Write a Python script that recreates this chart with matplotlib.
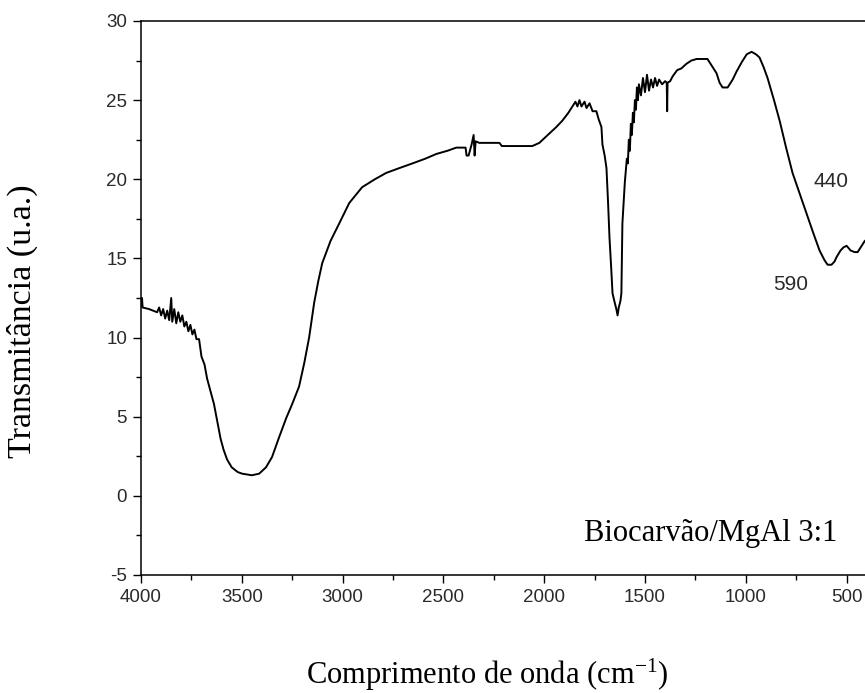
import numpy as np
import matplotlib
matplotlib.use("Agg")
import matplotlib.pyplot as plt
from matplotlib.ticker import MultipleLocator

# FTIR spectrum
wavenumber = [3998, 3995, 3992, 3960, 3940, 3920, 3910, 3900, 3890, 3880, 3870, 3860,
              3850, 3845, 3835, 3825, 3815, 3805, 3795, 3785, 3775, 3765, 3755, 3745,
              3735, 3725, 3712, 3700, 3685, 3672, 3655, 3638, 3620, 3605, 3590, 3573,
              3550, 3520, 3498, 3450, 3414, 3380, 3350, 3315, 3280, 3250, 3216, 3190,
              3166, 3141, 3120, 3101, 3060, 3017, 2967, 2903, 2840, 2784, 2720, 2654,
              2590, 2535, 2480, 2436, 2390, 2385, 2375, 2360, 2350, 2345, 2340, 2322,
              2222, 2210, 2059, 2024, 1974, 1940, 1910, 1880, 1860, 1845, 1835, 1825,
              1815, 1800, 1790, 1775, 1760, 1741, 1730, 1716, 1711, 1700, 1691, 1683,
              1676, 1668, 1661, 1650, 1642, 1636, 1630, 1622, 1617, 1612, 1600, 1590,
              1585, 1580, 1575, 1570, 1565, 1560, 1555, 1550, 1545, 1540, 1535, 1530,
              1520, 1510, 1500, 1490, 1480, 1470, 1460, 1450, 1440, 1430, 1415, 1400,
              1392, 1390, 1388, 1375, 1363, 1340, 1320, 1294, 1270, 1244, 1190, 1170,
              1145, 1130, 1115, 1090, 1065, 1046, 1020, 995, 971, 950, 932, 912,
              892, 860, 832, 800, 768, 730, 698, 665, 634, 610, 594, 575,
              560, 549, 530, 515, 500, 480, 460, 445, 430, 410, 400]
transmit = [12.0, 12.5, 11.9, 11.8, 11.7, 11.6, 11.9, 11.4, 11.8, 11.2, 11.7, 11.1,
            12.5, 11.0, 11.8, 10.9, 11.6, 11.0, 11.4, 10.7, 11.0, 10.4, 10.8, 10.2,
            10.5, 9.9, 9.9, 8.8, 8.3, 7.4, 6.6, 5.8, 4.6, 3.6, 2.9, 2.3,
            1.8, 1.5, 1.4, 1.3, 1.4, 1.8, 2.45, 3.7, 4.9, 5.8, 6.9, 8.4,
            10.0, 12.2, 13.6, 14.7, 16.1, 17.2, 18.5, 19.5, 20.0, 20.4, 20.7, 21.0,
            21.3, 21.6, 21.8, 22.0, 22.0, 21.5, 21.5, 22.2, 22.8, 21.5, 22.4, 22.3,
            22.3, 22.1, 22.1, 22.3, 22.9, 23.3, 23.7, 24.2, 24.6, 24.9, 24.6, 25.0,
            24.6, 24.9, 24.5, 24.8, 24.3, 24.3, 23.8, 23.3, 22.2, 21.5, 20.7, 18.5,
            16.3, 14.5, 12.8, 12.2, 11.8, 11.4, 11.9, 12.3, 12.8, 17.2, 19.8, 21.3,
            21.0, 22.5, 21.8, 23.5, 22.8, 24.2, 23.6, 25.0, 24.4, 25.8, 25.0, 26.0,
            25.3, 26.4, 25.5, 26.6, 25.6, 26.3, 25.8, 26.4, 25.9, 26.3, 26.0, 26.2,
            26.1, 24.3, 26.1, 26.2, 26.5, 26.9, 27.0, 27.3, 27.5, 27.6, 27.6, 27.2,
            26.7, 26.1, 25.8, 25.8, 26.3, 26.8, 27.4, 27.9, 28.05, 27.9, 27.7, 27.1,
            26.4, 25.0, 23.7, 22.0, 20.4, 19.0, 17.8, 16.6, 15.5, 14.9, 14.6, 14.6,
            14.8, 15.1, 15.5, 15.7, 15.8, 15.5, 15.4, 15.4, 15.7, 16.1, 16.2]

peak_labels = ["440", "590"]
peak_pos = [(579, 19.85), (778, 13.35)]
sample_name = "Biocarvão/MgAl 3:1"

plt.rcParams['mathtext.fontset'] = 'custom'
plt.rcParams['mathtext.rm'] = 'Liberation Serif'
plt.rcParams['mathtext.it'] = 'Liberation Serif:italic'
plt.rcParams['axes.unicode_minus'] = False

fig = plt.figure(figsize=(8.65, 6.93), dpi=100)
ax = fig.add_axes([0.163, 0.1703, 0.839, 0.7994])

ax.plot(wavenumber, transmit, color="black", lw=1.4)

ax.set_xlim(4000, 400)
ax.set_ylim(-5, 30)
ax.xaxis.set_major_locator(MultipleLocator(500))
ax.xaxis.set_minor_locator(MultipleLocator(250))
ax.yaxis.set_major_locator(MultipleLocator(5))
ax.yaxis.set_minor_locator(MultipleLocator(2.5))

ax.tick_params(which="major", direction="out", length=6, width=1.0,
               labelsize=13.5, labelcolor="#2a2a2a", pad=4)
ax.tick_params(which="minor", direction="out", length=3.5, width=1.0)
for lab in ax.get_xticklabels() + ax.get_yticklabels():
    lab.set_family("Liberation Sans")
for sp in ax.spines.values():
    sp.set_linewidth(1.1)

ax.set_xlabel(r"Comprimento de onda (cm$^{\mathrm{-1}}$)", family="Liberation Serif",
              fontsize=22, va="center")
ax.xaxis.set_label_coords(0.477, -0.18)
ax.set_ylabel("Transmitância (u.a.)", family="Liberation Serif", fontsize=24.5, va="center")
ax.yaxis.set_label_coords(-0.164, 0.458)

for t, (px, py) in zip(peak_labels, peak_pos):
    ax.text(px, py, t, family="Liberation Sans", fontsize=15, color="#2a2a2a",
            ha="center", va="center")

ax.text(1175, -2.4, sample_name, family="Liberation Serif", fontsize=22,
        ha="center", va="center")

fig.savefig("out.png", dpi=100)
